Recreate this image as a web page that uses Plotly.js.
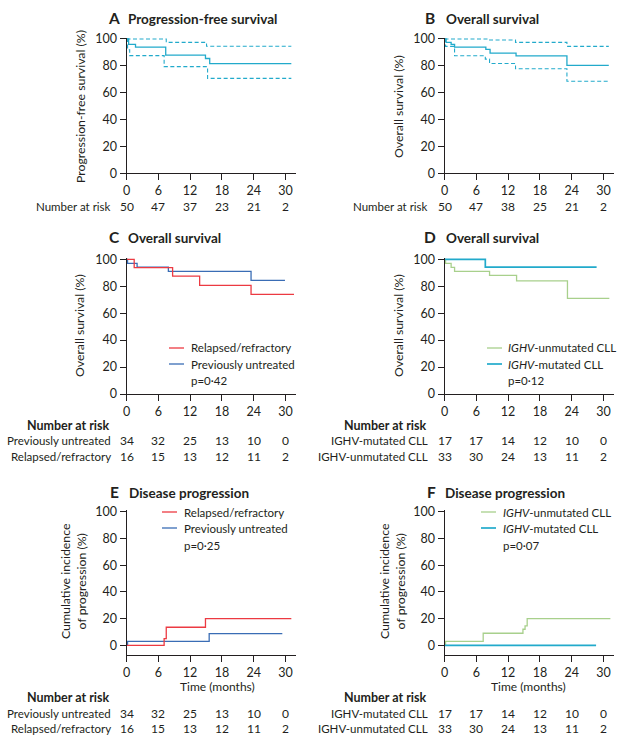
<!DOCTYPE html>
<html>
<head>
<meta charset="utf-8">
<script src="https://cdn.plot.ly/plotly-3.0.1.min.js"></script>
<style>html,body{margin:0;padding:0;background:#fff;}#chart{width:624px;height:742px;}</style>
</head>
<body>
<div id="chart"></div>
<script>
// ---------- DATA ----------
// Panel A: progression-free survival (all patients)
const pfsTime = [0, 0.4, 1.7, 7.4, 14.9, 15.7, 31.1];
const pfsVal  = [100, 96, 94, 88, 85.5, 81.6, 81.6];
const pfsUpTime = [0, 7.5, 15.1, 31.1];
const pfsUpVal  = [100, 97.5, 94.6, 94.6];
const pfsLoTime = [0, 0.2, 0.6, 7.1, 15.3, 31.1];
const pfsLoVal  = [100, 92, 87.6, 79.4, 70.7, 70.7];

// Panel B: overall survival (all patients)
const osTime = [0, 0.3, 1.25, 1.9, 7.8, 8.6, 13.5, 23.1, 31];
const osVal  = [100, 97.5, 96, 94, 92.3, 89.5, 87.5, 80.3, 80.3];
const osUpTime = [0, 8.3, 13.4, 23.1, 31];
const osUpVal  = [100, 99.3, 97.5, 94.5, 94.5];
const osLoTime = [0, 0.2, 1.9, 7.7, 8.5, 13.4, 23.1, 31];
const osLoVal  = [100, 94.5, 87.5, 85, 81.8, 77.8, 68.5, 68.5];

// Panel C: overall survival by prior treatment
const osRRTime = [0, 1.45, 8.7, 13.8, 23.5, 31.6];
const osRRVal  = [100, 93.75, 87.5, 80.7, 74, 74];
const osPUTime = [0, 0.2, 2, 7.9, 23.5, 29.9];
const osPUVal  = [100, 97, 94.2, 91.1, 84.4, 84.4];

// Panel D: overall survival by IGHV status
const osMutTime = [0, 7.7, 28.7];
const osMutVal  = [100, 94.2, 94.2];
const osUnmTime = [0, 0.2, 1.25, 1.9, 8.5, 13.6, 23.2, 31.1];
const osUnmVal  = [100, 97, 94, 91, 88, 84, 71, 71];

// Panel E: cumulative incidence of progression by prior treatment
const cpRRTime = [0, 7.1, 7.5, 14.9, 31.1];
const cpRRVal  = [0, 5, 13.5, 20, 20];
const cpPUTime = [0, 0.2, 15.6, 29.4];
const cpPUVal  = [0, 2.9, 8.8, 8.8];

// Panel F: cumulative incidence of progression by IGHV status
const cpUnmTime = [0, 0.2, 7.3, 14.8, 15.2, 15.6, 31.3];
const cpUnmVal  = [0, 3, 9, 12, 14.5, 20, 20];
const cpMutTime = [0, 28.6];
const cpMutVal  = [0, 0];

// Number at risk
const riskTimes = [0, 6, 12, 18, 24, 30];
const riskA = [50, 47, 37, 23, 21, 2];
const riskB = [50, 47, 38, 25, 21, 2];
const riskPrevUntreated = [34, 32, 25, 13, 10, 0];
const riskRelRef = [16, 15, 13, 12, 11, 2];
const riskIghvMut = [17, 17, 14, 12, 10, 0];
const riskIghvUnm = [33, 30, 24, 13, 11, 2];

const xTicks = [0, 6, 12, 18, 24, 30];
const yTicks = [0, 20, 40, 60, 80, 100];

// ---------- STYLE / LAYOUT ----------
const W = 624, H = 742;
const px = x => x / W;
const py = y => 1 - y / H;
const FONT = 'Lato, "Open Sans", sans-serif';
const INK = '#231F20';
const CYAN = '#22AACB', RED = '#EC3A42', BLUE = '#3A6DB5', GREEN = '#A8D08C';

const PPM = 5.3, XMAX = 32;
const colX0 = [126.5, 444.5];
const rows = [
  {y100: 39, y0: 173.3, ymin: 0},
  {y100: 259.3, y0: 394, ymin: 0},
  {y100: 511.7, y0: 645.3, ymin: -7}
];
const YMAX = 101;

const layout = {
  width: W, height: H,
  margin: {l: 0, r: 0, t: 0, b: 0},
  paper_bgcolor: '#fff', plot_bgcolor: 'rgba(0,0,0,0)',
  showlegend: false,
  font: {family: FONT, color: INK, size: 12},
  annotations: [], shapes: []
};

const panelAxes = [];
let k = 1;
for (let r = 0; r < 3; r++) {
  for (let c = 0; c < 2; c++) {
    const sfx = (k === 1 ? '' : String(k));
    const xn = 'xaxis' + sfx, yn = 'yaxis' + sfx;
    const ppu = (rows[r].y0 - rows[r].y100) / 100;
    const yTop = rows[r].y100 - (YMAX - 100) * ppu;
    const yBot = rows[r].y0 + (0 - rows[r].ymin) * ppu;
    layout[xn] = {
      domain: [px(colX0[c]), px(colX0[c] + XMAX * PPM)],
      range: [0, XMAX], anchor: 'y' + sfx,
      tickvals: xTicks, ticktext: xTicks.map(String),
      showline: true, linecolor: INK, linewidth: 1,
      ticks: 'outside', ticklen: 6, tickwidth: 1, tickcolor: INK,
      showgrid: false, zeroline: false, fixedrange: true,
      tickfont: {size: 12.5, family: FONT, color: INK}
    };
    layout[yn] = {
      domain: [py(yBot), py(yTop)],
      range: [rows[r].ymin, YMAX], anchor: 'x' + sfx,
      tickvals: yTicks, ticktext: yTicks.map(String),
      showline: true, linecolor: INK, linewidth: 1,
      ticks: 'outside', ticklen: 6, tickwidth: 1, tickcolor: INK,
      showgrid: false, zeroline: false, fixedrange: true,
      tickfont: {size: 12.5, family: FONT, color: INK}
    };
    panelAxes.push(['x' + sfx, 'y' + sfx, c, r]);
    k++;
  }
}

const traces = [];
function step(ax, t, v, color, dash, width) {
  traces.push({
    x: t, y: v, xaxis: ax[0], yaxis: ax[1], type: 'scatter', mode: 'lines',
    line: {shape: 'hv', color: color, width: width || 1.3, dash: dash || 'solid'},
    hoverinfo: 'skip', showlegend: false
  });
}
const A = panelAxes[0], B = panelAxes[1], C = panelAxes[2], D = panelAxes[3], E = panelAxes[4], F = panelAxes[5];
step(A, pfsUpTime, pfsUpVal, CYAN, '4px,2.5px', 1.1);
step(A, pfsLoTime, pfsLoVal, CYAN, '4px,2.5px', 1.1);
step(A, pfsTime, pfsVal, CYAN);
step(B, osUpTime, osUpVal, CYAN, '4px,2.5px', 1.1);
step(B, osLoTime, osLoVal, CYAN, '4px,2.5px', 1.1);
step(B, osTime, osVal, CYAN);
step(C, osPUTime, osPUVal, BLUE);
step(C, osRRTime, osRRVal, RED);
step(D, osUnmTime, osUnmVal, GREEN);
step(D, osMutTime, osMutVal, CYAN, 'solid', 1.7);
step(E, cpPUTime, cpPUVal, BLUE);
step(E, cpRRTime, cpRRVal, RED);
step(F, cpUnmTime, cpUnmVal, GREEN);
step(F, cpMutTime, cpMutVal, CYAN, 'solid', 1.7);

const ann = layout.annotations, shp = layout.shapes;
function text(x, y, s, opts) {
  ann.push(Object.assign({
    xref: 'paper', yref: 'paper', x: px(x), y: py(y), text: s, showarrow: false,
    xanchor: 'left', yanchor: 'middle',
    font: {family: FONT, size: 11.5, color: INK}
  }, opts || {}));
}

// Panel titles
const titles = [
  ['A', 'Progression-free survival', 106, 126, 18],
  ['B', 'Overall survival', 423, 444, 18],
  ['C', 'Overall survival', 107, 126, 237],
  ['D', 'Overall survival', 422, 444, 237],
  ['E', 'Disease progression', 108, 127, 492],
  ['F', 'Disease progression', 425, 443, 492]
];
titles.forEach(t => {
  text(t[2], t[4], '<b>' + t[0] + '</b>', {font: {family: FONT, size: 15.5, color: INK}});
  text(t[3], t[4] + 1, '<b>' + t[1] + '</b>', {font: {family: FONT, size: 13.5, color: INK}});
});

// Y axis titles
function ytitle(x, y, s) {
  text(x, y, s, {textangle: -90, xanchor: 'center', yanchor: 'middle', font: {family: FONT, size: 12.3, color: INK}});
}
ytitle(80, 107, 'Progression-free survival (%)');
ytitle(398, 107, 'Overall survival (%)');
ytitle(79, 326, 'Overall survival (%)');
ytitle(398, 326, 'Overall survival (%)');
ytitle(73, 581, 'Cumulative incidence<br>of progression (%)');
ytitle(392, 581, 'Cumulative incidence<br>of progression (%)');

// x titles
text(217, 686.5, 'Time (months)', {xanchor: 'center', font: {family: FONT, size: 12, color: INK}});
text(528, 686.5, 'Time (months)', {xanchor: 'center', font: {family: FONT, size: 12, color: INK}});

// Legends
function legend(sx, tx, y, color, label, w) {
  shp.push({type: 'line', xref: 'paper', yref: 'paper', x0: px(sx), x1: px(sx + 15), y0: py(y), y1: py(y),
            line: {color: color, width: w || 1.3}});
  text(tx, y, label);
}
legend(169, 189, 348, RED, 'Relapsed/refractory');
legend(169, 189, 364, BLUE, 'Previously untreated');
text(189, 380, 'p=0·42');
legend(487, 506, 348, GREEN, '<i>IGHV</i>-unmutated CLL');
legend(487, 506, 364, CYAN, '<i>IGHV</i>-mutated CLL', 1.7);
text(506, 380, 'p=0·12');
legend(162, 182, 512, RED, 'Relapsed/refractory');
legend(162, 182, 528, BLUE, 'Previously untreated');
text(182, 545, 'p=0·25');
legend(481, 501, 512, GREEN, '<i>IGHV</i>-unmutated CLL');
legend(481, 501, 528, CYAN, '<i>IGHV</i>-mutated CLL', 1.7);
text(501, 545, 'p=0·07');

// Number at risk
function riskRow(ax, vals, y) {
  vals.forEach((v, i) => {
    ann.push({xref: ax[0], yref: 'paper', x: riskTimes[i], y: py(y), text: String(v), showarrow: false,
              xanchor: 'center', yanchor: 'middle', font: {family: FONT, size: 12, color: INK}});
  });
}
text(113, 206, 'Number at risk', {xanchor: 'right'});
riskRow(A, riskA, 206);
text(430, 206, 'Number at risk', {xanchor: 'right'});
riskRow(B, riskB, 206);

function riskBlock(ax, rightX, yHead, labels, data) {
  text(rightX, yHead, '<b>Number at risk</b>', {xanchor: 'right', font: {family: FONT, size: 12.5, color: INK}});
  labels.forEach((l, i) => {
    text(rightX + 1, yHead + 15.5 * (i + 1), l, {xanchor: 'right'});
    riskRow(ax, data[i], yHead + 15.5 * (i + 1));
  });
}
riskBlock(C, 112, 425, ['Previously untreated', 'Relapsed/refractory'], [riskPrevUntreated, riskRelRef]);
riskBlock(D, 429, 425, ['IGHV-mutated CLL', 'IGHV-unmutated CLL'], [riskIghvMut, riskIghvUnm]);
riskBlock(E, 112, 697.5, ['Previously untreated', 'Relapsed/refractory'], [riskPrevUntreated, riskRelRef]);
riskBlock(F, 429, 697.5, ['IGHV-mutated CLL', 'IGHV-unmutated CLL'], [riskIghvMut, riskIghvUnm]);

Plotly.newPlot('chart', traces, layout, {staticPlot: true, displayModeBar: false});
</script>
</body>
</html>
